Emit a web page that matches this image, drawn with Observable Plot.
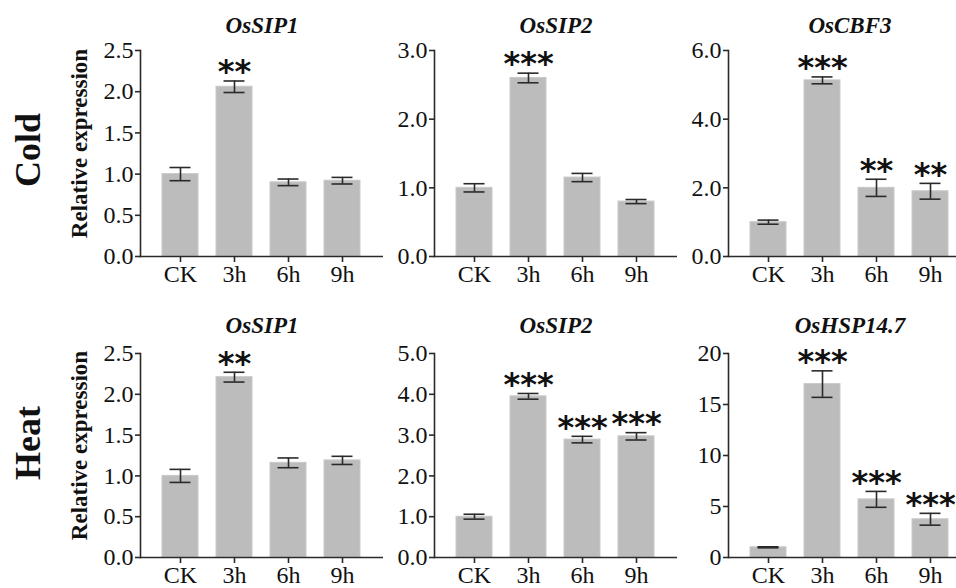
<!DOCTYPE html>
<html>
<head>
<meta charset="utf-8">
<script src="https://cdn.jsdelivr.net/npm/d3@7"></script>
<script src="https://cdn.jsdelivr.net/npm/@observablehq/plot@0.6"></script>
<style>
  html, body { margin: 0; padding: 0; background: #fff; overflow: hidden; }
  #root { position: relative; width: 956px; height: 588px; overflow: hidden; }
  .panel { position: absolute; }
  .panel svg { max-width: none !important; display: block; }
  .panel svg text.serif { font-family: "Liberation Serif", serif !important; }
  .panel svg text.stars { font-family: "DejaVu Sans", sans-serif !important; }
  .row-label { position: absolute; font-family: "Liberation Serif", serif; font-weight: bold;
    font-size: 36px; color: #111; transform: translate(-50%, -50%) rotate(-90deg); white-space: nowrap; }
</style>
</head>
<body>
<div id="root"></div>
<script>
// ---- data ----
const times = ["CK", "3h", "6h", "9h"];
const rowLabels = ["Cold", "Heat"];
const genes = ["OsSIP1", "OsSIP2", "OsCBF3", "OsSIP1", "OsSIP2", "OsHSP14.7"];

const coldSIP1 = [1.00, 2.06, 0.90, 0.92];
const coldSIP1Err = [0.08, 0.07, 0.04, 0.04];
const coldSIP1Sig = ["", "**", "", ""];
const coldSIP1Ticks = [0, 0.5, 1.0, 1.5, 2.0, 2.5];

const coldSIP2 = [1.00, 2.60, 1.15, 0.80];
const coldSIP2Err = [0.06, 0.07, 0.06, 0.03];
const coldSIP2Sig = ["", "***", "", ""];
const coldSIP2Ticks = [0, 1.0, 2.0, 3.0];

const coldCBF3 = [1.00, 5.13, 2.00, 1.90];
const coldCBF3Err = [0.06, 0.10, 0.25, 0.23];
const coldCBF3Sig = ["", "***", "**", "**"];
const coldCBF3Ticks = [0, 2.0, 4.0, 6.0];

const heatSIP1 = [1.00, 2.21, 1.16, 1.19];
const heatSIP1Err = [0.08, 0.06, 0.06, 0.05];
const heatSIP1Sig = ["", "**", "", ""];
const heatSIP1Ticks = [0, 0.5, 1.0, 1.5, 2.0, 2.5];

const heatSIP2 = [1.00, 3.95, 2.89, 2.97];
const heatSIP2Err = [0.06, 0.07, 0.08, 0.09];
const heatSIP2Sig = ["", "***", "***", "***"];
const heatSIP2Ticks = [0, 1.0, 2.0, 3.0, 4.0, 5.0];

const heatHSP = [1.00, 17.0, 5.7, 3.75];
const heatHSPErr = [0.05, 1.3, 0.78, 0.58];
const heatHSPSig = ["", "***", "***", "***"];
const heatHSPTicks = [0, 5, 10, 15, 20];

// ---- layout ----
const colX = [140, 434, 728];
const rowTop = [50, 353];
const rowH = [206, 204];
const plotW = 243;
const serif = "Liberation Serif";

const panels = [
  {v: coldSIP1, e: coldSIP1Err, s: coldSIP1Sig, ticks: coldSIP1Ticks, fmt: ".1f", r: 0, c: 0},
  {v: coldSIP2, e: coldSIP2Err, s: coldSIP2Sig, ticks: coldSIP2Ticks, fmt: ".1f", r: 0, c: 1},
  {v: coldCBF3, e: coldCBF3Err, s: coldCBF3Sig, ticks: coldCBF3Ticks, fmt: ".1f", r: 0, c: 2},
  {v: heatSIP1, e: heatSIP1Err, s: heatSIP1Sig, ticks: heatSIP1Ticks, fmt: ".1f", r: 1, c: 0},
  {v: heatSIP2, e: heatSIP2Err, s: heatSIP2Sig, ticks: heatSIP2Ticks, fmt: ".1f", r: 1, c: 1},
  {v: heatHSP, e: heatHSPErr, s: heatHSPSig, ticks: heatHSPTicks, fmt: "d", r: 1, c: 2}
];

const root = document.getElementById("root");
const ink = "#2a2a2a";

panels.forEach((p, i) => {
  const data = times.map((t, k) => ({t, v: p.v[k], e: p.e[k], s: p.s[k]}));
  const mL = p.c === 0 ? 140 : 70;
  const mT = 50, mB = 40, mR = 10;
  const h = rowH[p.r];
  const W = mL + plotW + mR;
  const yMax = p.ticks[p.ticks.length - 1];
  const chart = Plot.plot({
    width: W,
    height: mT + h + mB,
    marginLeft: mL, marginRight: mR, marginTop: mT, marginBottom: mB,
    style: {fontSize: "24px", color: "#111", background: "transparent", overflow: "visible"},
    x: {domain: times, paddingInner: 0.33, paddingOuter: 0.39, label: null},
    y: {domain: [0, yMax], label: null},
    marks: [
      Plot.barY(data, {x: "t", y: "v", fill: "#bcbcbc", stroke: "#c9c9c9", strokeWidth: 1}),
      Plot.ruleX(data, {x: "t", y1: d => d.v - d.e, y2: d => d.v + d.e, stroke: ink, strokeWidth: 1.6}),
      Plot.tickY(data, {x: "t", y: d => d.v + d.e, stroke: ink, strokeWidth: 1.6, insetLeft: 7.5, insetRight: 7.5}),
      Plot.tickY(data, {x: "t", y: d => d.v - d.e, stroke: ink, strokeWidth: 1.6, insetLeft: 7.5, insetRight: 7.5}),
      Plot.text(data, {x: "t", y: d => d.v + d.e, text: "s", dy: -9, lineAnchor: "middle",
        fontFamily: "DejaVu Sans", fontWeight: "bold", fontSize: 32, fill: "#111", letterSpacing: 3}),
      Plot.axisY({ticks: p.ticks, tickFormat: d3.format(p.fmt), tickSize: 5, tickPadding: 2, stroke: ink, strokeWidth: 1.6,
        fontFamily: serif, fontSize: 24,
        label: p.c === 0 ? "Relative expression" : null, labelAnchor: "center", labelOffset: 70, labelArrow: false}),
      Plot.axisX({tickSize: 6, tickPadding: 2, stroke: ink, strokeWidth: 1.6, fontFamily: serif, fontSize: 24}),
      Plot.frame({anchor: "left", stroke: ink, strokeWidth: 1.6}),
      Plot.ruleY([0], {stroke: ink, strokeWidth: 1.6}),
      Plot.text([genes[i]], {frameAnchor: "top", lineAnchor: "middle", dy: p.r === 0 ? -25 : -28,
        fontFamily: serif, fontWeight: "bold", fontStyle: "italic", fontSize: 23, fill: "#111"})
    ]
  });
  // font assignment: serif everywhere except the significance stars
  chart.removeAttribute("font-family");
  chart.querySelectorAll("text").forEach(t => {
    const isStar = /^\*+$/.test(t.textContent.trim());
    t.setAttribute("class", isStar ? "stars" : "serif");
    t.setAttribute("font-family", isStar ? "DejaVu Sans" : serif);
  });
  chart.querySelectorAll("[aria-label='y-axis label'] text").forEach(t => {
    t.setAttribute("font-weight", "bold");
    t.setAttribute("font-size", "23");
    t.setAttribute("dx", "10");
  });
  const wrap = document.createElement("div");
  wrap.className = "panel";
  wrap.style.left = (colX[p.c] - mL) + "px";
  wrap.style.top = (rowTop[p.r] - mT) + "px";
  wrap.style.width = W + "px";
  wrap.appendChild(chart);
  root.appendChild(wrap);
});

const rowCenters = [150, 443];
rowLabels.forEach((lab, r) => {
  const d = document.createElement("div");
  d.className = "row-label";
  d.textContent = lab;
  d.style.left = "28px";
  d.style.top = rowCenters[r] + "px";
  root.appendChild(d);
});
</script>
</body>
</html>
